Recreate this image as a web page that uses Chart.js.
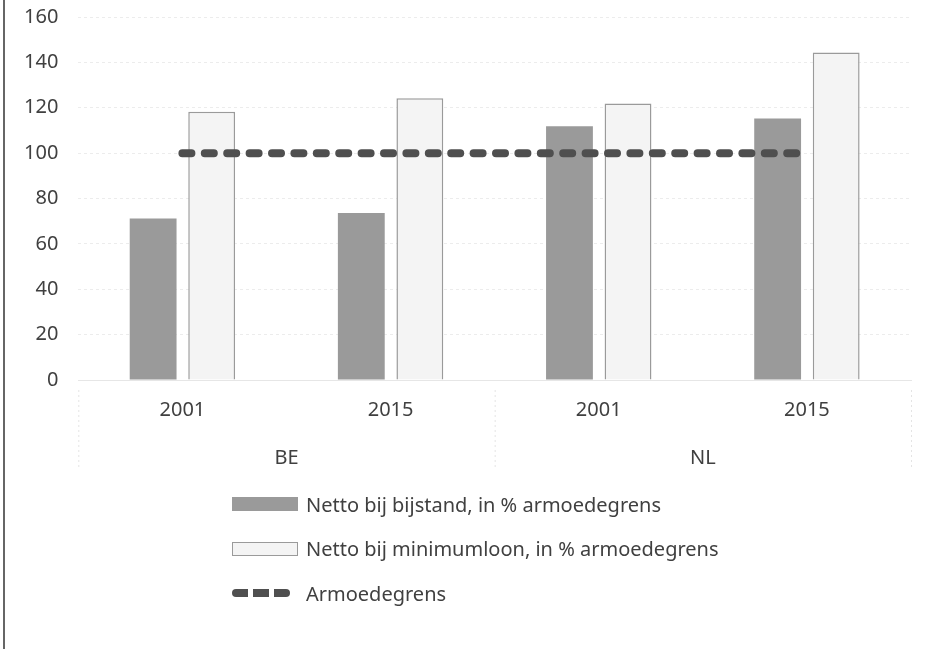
<!DOCTYPE html>
<html>
<head>
<meta charset="utf-8">
<script src="https://cdn.jsdelivr.net/npm/chart.js@4.4.1/dist/chart.umd.min.js"></script>
<style>
  body { margin: 0; background: #fff; }
  #wrap { position: relative; width: 944px; height: 649px; }
  #edge { position: absolute; left: 3px; top: 0; width: 0; height: 649px; border-left: 2px solid #666; }
  #legend { position: absolute; left: 232px; top: 482px; font-family: "Noto Sans", sans-serif; font-size: 20px; color: #404040; }
  .item { display: flex; align-items: center; height: 44.5px; }
  .swatch { width: 66px; height: 14px; margin-right: 8px; box-sizing: border-box; }
</style>
</head>
<body>
<div id="wrap">
  <canvas id="myChart" width="944" height="649"></canvas>
  <div id="edge"></div>
  <div id="legend"></div>
</div>
<script>
const categories = ['2001', '2015', '2001', '2015'];
const groups = ['BE', 'NL'];
const bijstand = [71.2, 73.6, 111.9, 115.3];
const minimumloon = [118.2, 124.2, 121.9, 144.4];
const armoedegrens = [100, 100, 100, 100];
const yTicks = [0, 20, 40, 60, 80, 100, 120, 140, 160];

const textColor = '#404040';
const font = { family: 'Noto Sans', size: 20 };

// faint separators under the axis, between the country groups
const separators = {
  id: 'separators',
  afterDraw(chart) {
    const ctx = chart.ctx, a = chart.chartArea;
    const xs = [a.left, (a.left + a.right) / 2, a.right];
    ctx.save();
    ctx.strokeStyle = '#e4e4e4';
    ctx.lineWidth = 1;
    ctx.setLineDash([2, 3]);
    xs.forEach(x => {
      ctx.beginPath();
      ctx.moveTo(x + 0.5, a.bottom + 10);
      ctx.lineTo(x + 0.5, a.bottom + 90);
      ctx.stroke();
    });
    ctx.restore();
  }
};

const ctx = document.getElementById('myChart').getContext('2d');
const chart = new Chart(ctx, {
  type: 'bar',
  data: {
    labels: categories,
    datasets: [{
      label: 'Netto bij bijstand, in % armoedegrens',
      data: bijstand,
      backgroundColor: '#9a9a9a',
      borderWidth: 0,
      categoryPercentage: 0.5625,
      barPercentage: 0.8,
      order: 1
    }, {
      label: 'Netto bij minimumloon, in % armoedegrens',
      data: minimumloon,
      backgroundColor: '#f4f4f4',
      borderColor: '#9a9a9a',
      borderWidth: 1.5,
      categoryPercentage: 0.5625,
      barPercentage: 0.8,
      order: 1
    }, {
      type: 'line',
      label: 'Armoedegrens',
      data: armoedegrens,
      borderColor: '#4f4f4f',
      borderWidth: 8,
      borderDash: [9, 13.4],
      borderCapStyle: 'round',
      pointRadius: 0,
      fill: false,
      order: 0
    }]
  },
  options: {
    responsive: false,
    animation: false,
    layout: { autoPadding: false, padding: { top: 17, left: 4, right: 33, bottom: 173 } },
    scales: {
      x: {
        grid: { display: false, drawTicks: false },
        border: { display: true, color: '#e6e6e6' },
        ticks: { color: textColor, font: font, padding: 18, maxRotation: 0 }
      },
      x2: {
        type: 'category',
        labels: groups,
        position: 'bottom',
        offset: true,
        grid: { display: false, drawTicks: false },
        border: { display: false },
        ticks: { color: textColor, font: font, padding: 6 }
      },
      y: {
        min: 0,
        max: 160,
        afterBuildTicks(scale) { scale.ticks = yTicks.map(v => ({ value: v })); },
        afterFit(scale) { scale.paddingTop = 0; scale.paddingBottom = 0; },
        grid: { color: '#ececec', drawTicks: false },
        border: { display: false, dash: [3, 3] },
        ticks: { color: textColor, font: font, padding: 20 }
      }
    },
    plugins: {
      legend: { display: false },
      tooltip: { enabled: false }
    }
  },
  plugins: [separators]
});

// legend built from the datasets, one item per line
const legend = document.getElementById('legend');
chart.data.datasets.forEach(ds => {
  const item = document.createElement('div');
  item.className = 'item';
  const sw = document.createElement('div');
  sw.className = 'swatch';
  if (ds.type === 'line') {
    sw.style.height = '8px';
    sw.style.width = '58px';
    sw.style.marginRight = '16px';
    sw.style.background = 'repeating-linear-gradient(90deg, #4f4f4f 0 16px, transparent 16px 21px)';
    sw.style.borderRadius = '4px';
  } else {
    sw.style.background = ds.backgroundColor;
    if (ds.borderWidth) sw.style.border = '1px solid ' + ds.borderColor;
  }
  const txt = document.createElement('span');
  txt.textContent = ds.label;
  item.appendChild(sw);
  item.appendChild(txt);
  legend.appendChild(item);
});
</script>
</body>
</html>
